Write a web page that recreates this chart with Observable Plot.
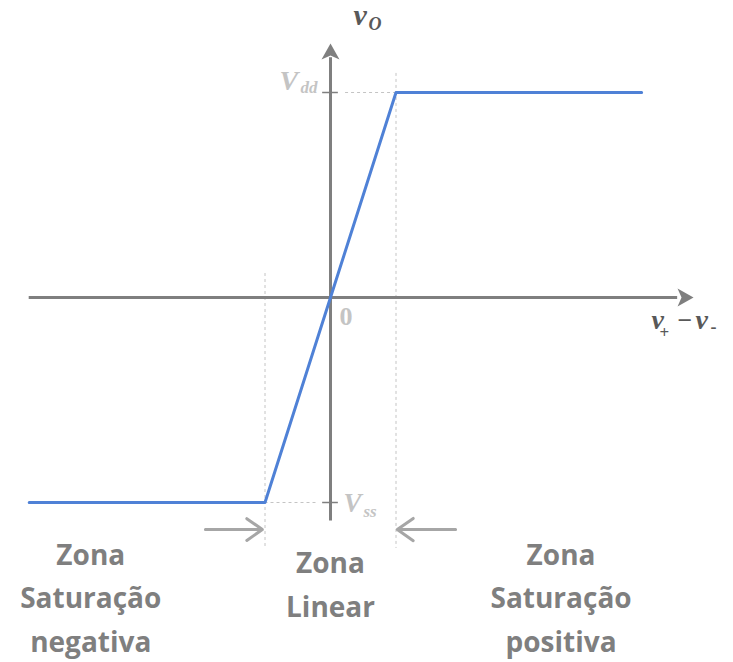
<!DOCTYPE html>
<html>
<head>
<meta charset="utf-8">
<script src="https://cdn.jsdelivr.net/npm/d3@7"></script>
<script src="https://cdn.jsdelivr.net/npm/@observablehq/plot@0.6"></script>
<style>
  html, body { margin: 0; padding: 0; background: #fff; }
</style>
</head>
<body>
<div id="chart"></div>
<script>
// Transfer characteristic of an op-amp: output vs differential input
const vIn = [-4.6, -1, 1, 4.75];
const vOut = [-10, -10, 10, 10];
const vdd = 10;
const vss = -10;
const vSat = [-1, 1];

// Axis extents (data units)
const xAxisExtent = [-4.6, 5.3];
const yAxisExtent = [-10.9, 11.7];

// Zone labels
const zoneNames = ["Zona\nSaturação\nnegativa", "Zona\nLinear", "Zona\nSaturação\npositiva"];
const zoneX = [-3.66, 0, 3.52];
const zoneTop = [-11.55, -11.95, -11.55];

const axisGray = "#7f7f7f";
const lightGray = "#c4c4c4";
const labelGray = "#595959";
const blue = "#4f81d6";
const serif = "'Liberation Serif', 'DejaVu Serif', serif";

const curve = vIn.map((x, i) => ({x, y: vOut[i]}));
const zones = zoneNames.map((t, i) => ({t, x: zoneX[i], y: zoneTop[i]}));

// Filled "stealth" arrowhead, pointing up, tip 10px above its anchor
const stealth = {
  draw(context, size) {
    const s = Math.sqrt(size / Math.PI) / 10;
    context.moveTo(0, -10 * s);
    context.lineTo(9 * s, 6 * s);
    context.lineTo(0, 2 * s);
    context.lineTo(-9 * s, 6 * s);
    context.closePath();
  }
};

// text label helper: baseline-anchored, offsets in pixels from a data point
const label = (str, x, y, dx, dy, size, opts = {}) =>
  Plot.text([str], {x, y, dx, dy, text: d => d, textAnchor: "start", lineAnchor: "bottom",
    fontFamily: serif, fontWeight: "bold", fontSize: size, ...opts});

const chart = Plot.plot({
  width: 733,
  height: 662,
  margin: 0,
  x: {domain: [-330 / 65.5, 403 / 65.5], axis: null},
  y: {domain: [-365 / 20.5, 297 / 20.5], axis: null},
  marks: [
    // dashed guides at the saturation limits
    Plot.ruleX([vSat[0]], {y1: 1.17, y2: -12.24, stroke: lightGray, strokeWidth: 1, strokeDasharray: "3,3"}),
    Plot.ruleX([vSat[1]], {y1: 10.93, y2: -12.24, stroke: lightGray, strokeWidth: 1, strokeDasharray: "3,3"}),
    Plot.ruleY([vdd], {x1: 0.23, x2: vSat[1], stroke: lightGray, strokeWidth: 1, strokeDasharray: "3,3"}),
    Plot.ruleY([vss], {x1: vSat[0], x2: -0.2, stroke: lightGray, strokeWidth: 1, strokeDasharray: "3,3"}),
    // axes
    Plot.ruleY([0], {x1: xAxisExtent[0], x2: xAxisExtent[1], stroke: axisGray, strokeWidth: 3}),
    Plot.ruleX([0], {y1: yAxisExtent[0], y2: yAxisExtent[1], stroke: axisGray, strokeWidth: 3}),
    Plot.dot([{x: 5.39, y: 0}], {x: "x", y: "y", symbol: stealth, r: 10, fill: axisGray, stroke: "none", rotate: 90}),
    Plot.dot([{x: 0, y: 11.9}], {x: "x", y: "y", symbol: stealth, r: 10, fill: axisGray, stroke: "none"}),
    // ticks at Vdd and Vss
    Plot.ruleY([vdd, vss], {x1: -0.12, x2: 0.12, stroke: axisGray, strokeWidth: 1.5}),
    // transfer curve
    Plot.line(curve, {x: "x", y: "y", stroke: blue, strokeWidth: 3}),
    // zone boundary arrows
    Plot.arrow([
      {x1: -1.91, x2: -1.04, y: -11.32},
      {x1: 1.91, x2: 1.02, y: -11.32}
    ], {x1: "x1", x2: "x2", y1: "y", y2: "y", stroke: "#a6a6a6", strokeWidth: 3, headLength: 16, headAngle: 70}),
    // output axis label v_O
    label("v", 0, 0, 23, -273, 30, {fontStyle: "italic", fill: labelGray}),
    label("O", 0, 0, 38, -268, 18, {fontStyle: "italic", fill: labelGray}),
    // origin
    label("0", 0, 0, 9, 27, 26, {fill: lightGray}),
    // supply levels
    label("V", 0, vdd, -51, -3, 28, {fontStyle: "italic", fill: lightGray}),
    label("dd", 0, vdd, -30, 0, 17, {fontStyle: "italic", fill: lightGray}),
    label("V", 0, vss, 13, 9, 27, {fontStyle: "italic", fill: lightGray}),
    label("ss", 0, vss, 33, 14, 17, {fontStyle: "italic", fill: lightGray}),
    // input axis label v+ − v-
    label("v", 0, 0, 321, 31, 28, {fontStyle: "italic", fill: labelGray}),
    label("+", 0, 0, 329, 40, 17, {fill: labelGray}),
    label("\u2212", 0, 0, 347, 31, 26, {fill: labelGray}),
    label("v", 0, 0, 365, 31, 28, {fontStyle: "italic", fill: labelGray}),
    label("-", 0, 0, 380, 35, 18, {fill: labelGray}),
    // region names
    Plot.text(zones, {x: "x", y: "y", text: "t", lineAnchor: "top", lineHeight: 1.55, fontFamily: "'Open Sans', sans-serif", fontWeight: "bold", fontSize: 28, fill: "#7f7f7f"})
  ]
});

document.getElementById("chart").appendChild(chart);
</script>
</body>
</html>
